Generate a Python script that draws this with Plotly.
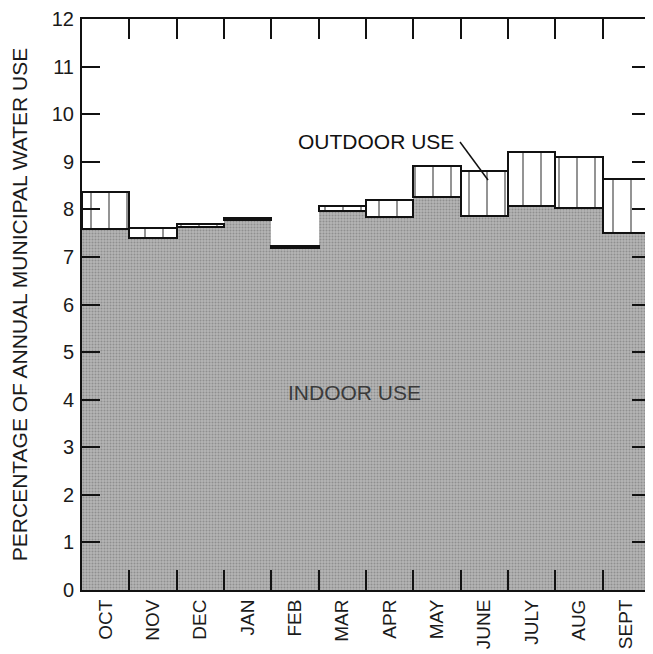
import plotly.graph_objects as go

months = ["OCT", "NOV", "DEC", "JAN", "FEB", "MAR", "APR", "MAY", "JUNE", "JULY", "AUG", "SEPT"]
indoor = [7.59, 7.39, 7.63, 7.77, 7.19, 7.97, 7.83, 8.26, 7.86, 8.07, 8.02, 7.51]
outdoor = [0.78, 0.22, 0.07, 0.05, 0.03, 0.11, 0.36, 0.65, 0.95, 1.14, 1.07, 1.12]
y_ticks = list(range(0, 13))

fig = go.Figure()
fig.add_trace(go.Bar(
    x=months, y=indoor, name="Indoor use",
    marker=dict(color="#a8a8a8", line=dict(width=0),
                pattern=dict(shape=".", fgcolor="#6a6a6a", bgcolor="#b4b4b4", size=3, solidity=0.35)),
))
fig.add_trace(go.Bar(
    x=months, y=outdoor, name="Outdoor use",
    marker=dict(color="white", line=dict(width=2, color="#111"),
                pattern=dict(shape="|", fgcolor="#111", bgcolor="white", size=18, solidity=0.1)),
))

font = "Liberation Sans, Arial, Helvetica, sans-serif"
# page body has an 8px default margin; the figure is sized to fit the window
fig.update_layout(
    barmode="stack", bargap=0, showlegend=False,
    width=645, height=646,
    margin=dict(l=74, r=3, t=11, b=64),
    paper_bgcolor="white", plot_bgcolor="white",
    font=dict(family=font, color="#1a1a1a", size=20),
)
fig.update_xaxes(
    range=[-0.5, 11.5], tickangle=-90, tickson="boundaries", automargin=False,
    ticks="inside", ticklen=20, tickwidth=2, tickcolor="#111",
    showline=True, linecolor="#111", linewidth=2, mirror="allticks",
    showgrid=False, tickfont=dict(size=19, family=font, color="#1a1a1a"),
)
fig.update_yaxes(
    range=[0, 12], tickvals=y_ticks, ticktext=[str(v) for v in y_ticks], automargin=False,
    ticks="inside", ticklen=18, tickwidth=2, tickcolor="#111",
    showline=True, linecolor="#111", linewidth=2, mirror="allticks",
    showgrid=False, zeroline=False, tickfont=dict(size=20, family=font, color="#1a1a1a"),
    ticklabelstandoff=2,
    title=dict(text="PERCENTAGE OF ANNUAL MUNICIPAL WATER USE", font=dict(size=21, family=font, color="#1a1a1a"), standoff=25),
)

fig.add_annotation(x=(376 - 82) / 568, y=(590 - 128) / 571, xref="paper", yref="paper", text="OUTDOOR USE",
                   showarrow=False, font=dict(size=21, family=font, color="#111"))
fig.add_shape(type="line", xref="paper", yref="paper",
              x0=(460 - 82) / 568, y0=(590 - 142) / 571, x1=(488 - 82) / 568, y1=(590 - 180) / 571,
              line=dict(color="#111", width=1.5))
fig.add_annotation(x=(354 - 82) / 568, y=(590 - 392) / 571, xref="paper", yref="paper", text="INDOOR USE",
                   showarrow=False, font=dict(size=21, family=font, color="#3a3a3a"))

fig.write_html("out.html")
